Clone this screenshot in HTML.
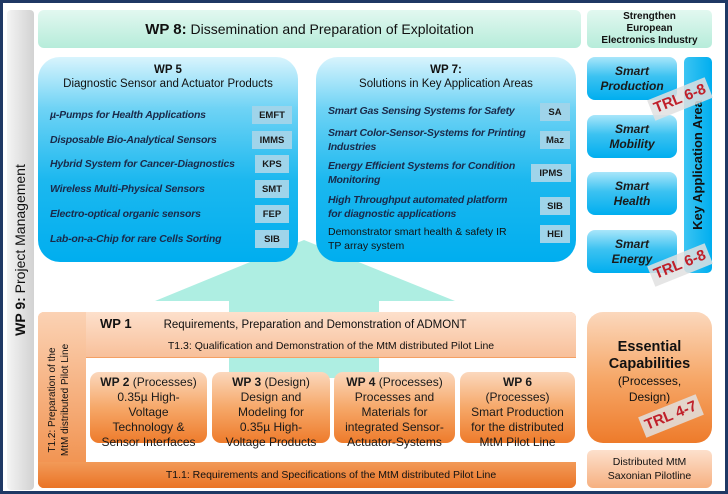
<!DOCTYPE html>
<html><head><meta charset="utf-8"><style>
*{margin:0;padding:0;box-sizing:border-box}
body{width:728px;height:494px;background:#fff;font-family:"Liberation Sans",Arial,sans-serif;position:relative;overflow:hidden}
.a{position:absolute}
.frame{left:0;top:0;width:728px;height:494px;border:3px solid #1f3864;}
.blue{background:linear-gradient(180deg,#d8f4fd 0%,#6fd3f5 25%,#1cb8ef 60%,#00aeef 100%);border-radius:22px}
.sb{background:linear-gradient(180deg,#a9e6fa 0%,#3cc2f1 45%,#00aeef 100%);border-radius:8px;display:flex;align-items:center;justify-content:center;text-align:center;font-weight:bold;font-style:italic;font-size:12px;color:#1a1a1a;line-height:15px}
.it{font-size:10.5px;font-style:italic;color:#1a2a4a;line-height:14px;font-weight:bold;letter-spacing:-0.2px}
.tag{background:#9fd4ea;font-size:9.5px;font-weight:bold;color:#1a1a1a;display:flex;align-items:center;justify-content:center;height:18px}
.ob{background:linear-gradient(180deg,#fbd8bd 0%,#f6a869 50%,#ee7b2b 100%);border-radius:9px;text-align:center;font-size:12px;line-height:15px;color:#1a1a1a;padding-top:3px}
.trl{background:rgba(225,225,225,0.85);color:#c0202a;font-weight:bold;font-size:15px;width:62px;height:22px;line-height:22px;text-align:center;transform:rotate(-22deg)}
</style></head><body>
<div class="a frame"></div>
<!-- WP9 -->
<div class="a" style="left:7px;top:10px;width:27px;height:480px;background:linear-gradient(90deg,#f4f4f4,#d2d2d2);border-radius:4px"></div>
<div class="a" style="left:20px;top:250px;width:300px;height:20px;margin-left:-150px;margin-top:-10px;transform:rotate(-90deg);text-align:center;font-size:14px;color:#111;line-height:20px"><b>WP 9:</b> Project Management</div>
<!-- WP8 -->
<div class="a" style="left:38px;top:10px;width:543px;height:38px;background:linear-gradient(180deg,#e2f8f0,#b6ecda);border-radius:6px;text-align:center;line-height:38px;font-size:14px;color:#111"><b style="font-size:15px">WP 8:</b> Dissemination and Preparation of Exploitation</div>
<div class="a" style="left:587px;top:10px;width:125px;height:38px;background:linear-gradient(180deg,#e2f8f0,#b6ecda);border-radius:5px;text-align:center;font-size:10px;font-weight:bold;line-height:12px;padding-top:1px;color:#111">Strengthen<br>European<br>Electronics Industry</div>
<!-- arrow -->
<svg class="a" style="left:0;top:0" width="728" height="494"><polygon points="304,240 455,301 379,301 379,380 229,380 229,301 155,301" fill="#aeeee2"/></svg>
<!-- WP5 -->
<div class="a blue" style="left:38px;top:57px;width:260px;height:205px"></div>
<div class="a" style="left:38px;top:63px;width:260px;text-align:center;font-size:11.5px;line-height:14px;color:#111"><b>WP 5</b><br>Diagnostic Sensor and Actuator Products</div>
<div class="a it" style="left:50px;top:108px">µ-Pumps for Health Applications</div>
<div class="a it" style="left:50px;top:133px">Disposable Bio-Analytical Sensors</div>
<div class="a it" style="left:50px;top:157px">Hybrid System for Cancer-Diagnostics</div>
<div class="a it" style="left:50px;top:182px">Wireless Multi-Physical Sensors</div>
<div class="a it" style="left:50px;top:207px">Electro-optical organic sensors</div>
<div class="a it" style="left:50px;top:232px">Lab-on-a-Chip for rare Cells Sorting</div>
<div class="a tag" style="left:252px;top:106px;width:40px">EMFT</div>
<div class="a tag" style="left:252px;top:131px;width:40px">IMMS</div>
<div class="a tag" style="left:255px;top:155px;width:34px">KPS</div>
<div class="a tag" style="left:255px;top:180px;width:34px">SMT</div>
<div class="a tag" style="left:255px;top:205px;width:34px">FEP</div>
<div class="a tag" style="left:255px;top:230px;width:34px">SIB</div>
<!-- WP7 -->
<div class="a blue" style="left:316px;top:57px;width:260px;height:205px"></div>
<div class="a" style="left:316px;top:63px;width:260px;text-align:center;font-size:11.5px;line-height:14px;color:#111"><b>WP 7:</b><br>Solutions in Key Application Areas</div>
<div class="a it" style="left:328px;top:104px">Smart Gas Sensing Systems for Safety</div>
<div class="a it" style="left:328px;top:126px">Smart Color-Sensor-Systems for Printing<br>Industries</div>
<div class="a it" style="left:328px;top:159px">Energy Efficient Systems for Condition<br>Monitoring</div>
<div class="a it" style="left:328px;top:193px">High Throughput automated platform<br>for diagnostic applications</div>
<div class="a" style="left:328px;top:225px;font-size:10.5px;line-height:14px;color:#111">Demonstrator smart health &amp; safety IR<br>TP array system</div>
<div class="a tag" style="left:540px;top:103px;width:30px">SA</div>
<div class="a tag" style="left:540px;top:131px;width:30px">Maz</div>
<div class="a tag" style="left:531px;top:164px;width:40px">IPMS</div>
<div class="a tag" style="left:540px;top:197px;width:30px">SIB</div>
<div class="a tag" style="left:540px;top:225px;width:30px">HEI</div>
<!-- smart boxes -->
<div class="a sb" style="left:587px;top:57px;width:90px;height:43px">Smart<br>Production</div>
<div class="a sb" style="left:587px;top:115px;width:90px;height:43px">Smart<br>Mobility</div>
<div class="a sb" style="left:587px;top:172px;width:90px;height:43px">Smart<br>Health</div>
<div class="a sb" style="left:587px;top:230px;width:90px;height:43px">Smart<br>Energy</div>
<div class="a" style="left:684px;top:57px;width:28px;height:216px;background:linear-gradient(90deg,#3cc4f2,#00aeef);border-radius:5px"></div>
<div class="a" style="left:698px;top:165px;width:200px;height:20px;margin-left:-100px;margin-top:-10px;transform:rotate(-90deg);text-align:center;font-weight:bold;font-size:13px;line-height:20px;color:#111">Key Application Area</div>
<div class="a trl" style="left:649px;top:88px">TRL 6-8</div>
<div class="a trl" style="left:649px;top:254px">TRL 6-8</div>
<!-- WP1 -->
<div class="a" style="left:38px;top:312px;width:538px;height:176px;background:#f4a064;border-radius:6px"></div>
<div class="a" style="left:38px;top:312px;width:538px;height:45px;background:linear-gradient(180deg,#fde0cc,#f8c09a);border-radius:6px 6px 0 0"></div>
<div class="a" style="left:38px;top:312px;width:48px;height:176px;background:linear-gradient(180deg,#fbd2b4,#f08a42);border-radius:6px 0 0 6px"></div>
<div class="a" style="left:86px;top:358px;width:490px;height:104px;background:#fff"></div>
<svg class="a" style="left:0;top:0" width="728" height="494"><rect x="229" y="358" width="150" height="20" fill="#aeeee2"/></svg>
<div class="a" style="left:38px;top:462px;width:538px;height:26px;background:linear-gradient(180deg,#f29a58,#ea7426);border-radius:0 0 6px 6px"></div>
<div class="a" style="left:86px;top:462px;width:490px;height:26px;text-align:center;line-height:26px;font-size:10.5px;color:#111">T1.1: Requirements and Specifications of the MtM distributed Pilot Line</div>
<div class="a" style="left:100px;top:316px;font-size:11.5px;color:#111;line-height:16px"><b style="font-size:13px">WP 1</b><span style="margin-left:32px">Requirements, Preparation and Demonstration of ADMONT</span></div>
<div class="a" style="left:86px;top:340px;width:490px;text-align:center;font-size:10.5px;color:#111">T1.3: Qualification and Demonstration of the MtM distributed Pilot Line</div>
<div class="a" style="left:61px;top:400px;width:180px;height:30px;margin-left:-90px;margin-top:-15px;transform:rotate(-90deg);text-align:center;font-size:10px;line-height:13px;color:#111">T1.2: Preparation of the<br>MtM distributed Pilot Line</div>
<div class="a ob" style="left:90px;top:372px;width:117px;height:71px"><b>WP 2</b> (Processes)<br>0.35µ High-<br>Voltage<br>Technology &amp;<br>Sensor Interfaces</div>
<div class="a ob" style="left:212px;top:372px;width:118px;height:71px"><b>WP 3</b> (Design)<br>Design and<br>Modeling for<br>0.35µ High-<br>Voltage Products</div>
<div class="a ob" style="left:334px;top:372px;width:121px;height:71px"><b>WP 4</b> (Processes)<br>Processes and<br>Materials for<br>integrated Sensor-<br>Actuator-Systems</div>
<div class="a ob" style="left:460px;top:372px;width:115px;height:71px"><b>WP 6</b><br>(Processes)<br>Smart Production<br>for the distributed<br>MtM Pilot Line</div>
<!-- right bottom -->
<div class="a" style="left:587px;top:312px;width:125px;height:131px;background:linear-gradient(180deg,#fbd8bd 0%,#f6a869 50%,#ee7b2b 100%);border-radius:16px;text-align:center;color:#111;padding-top:27px;font-size:12px;line-height:16px"><b style="font-size:14.5px;line-height:17px">Essential<br>Capabilities</b><br>(Processes,<br>Design)</div>
<div class="a trl" style="left:640px;top:405px">TRL 4-7</div>
<div class="a" style="left:587px;top:450px;width:125px;height:38px;background:linear-gradient(180deg,#fde0cc,#f6b080);border-radius:6px;text-align:center;font-size:10.5px;line-height:14px;padding-top:5px;color:#111">Distributed MtM<br>Saxonian Pilotline</div>
</body></html>
